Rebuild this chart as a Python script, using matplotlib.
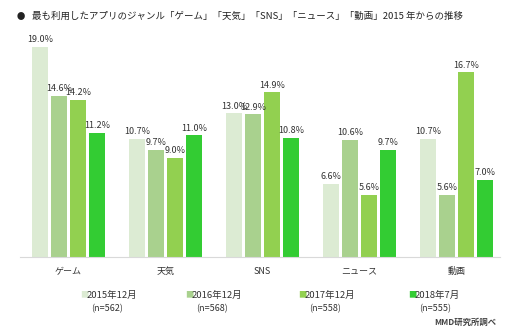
import matplotlib.pyplot as plt
import numpy as np

plt.rcParams['font.family'] = ['Noto Sans CJK JP', 'DejaVu Sans']

# data
categories = ['ゲーム', '天気', 'SNS', 'ニュース', '動画']
series = ['2015年12月', '2016年12月', '2017年12月', '2018年7月']
sample_sizes = ['(n=562)', '(n=568)', '(n=558)', '(n=555)']
v2015 = [19.0, 10.7, 13.0, 6.6, 10.7]
v2016 = [14.6, 9.7, 12.9, 10.6, 5.6]
v2017 = [14.2, 9.0, 14.9, 5.6, 16.7]
v2018 = [11.2, 11.0, 10.8, 9.7, 7.0]
values = [v2015, v2016, v2017, v2018]
colors = ['#dcebd3', '#a9d18e', '#92d050', '#33cc33']

fig = plt.figure(figsize=(5.12, 3.29), dpi=100)
ax = fig.add_axes([20 / 512, (329 - 257) / 329, 480 / 512, 221 / 329])

x = np.arange(len(categories))
step = 0.195
width = 0.165
for i, (vals, c) in enumerate(zip(values, colors)):
    pos = x + (i - 1.5) * step
    ax.bar(pos, vals, width, color=c)
    for p, v in zip(pos, vals):
        ax.text(p, v + 0.25, f'{v:.1f}%', ha='center', va='bottom',
                fontsize=6.5, color='#333333')

ax.set_xlim(-0.5, 4.45)
ax.set_ylim(0, 20)
for s in ['top', 'right', 'left']:
    ax.spines[s].set_visible(False)
ax.spines['bottom'].set_color('#d9d9d9')
ax.set_yticks([])
ax.set_xticks(x)
ax.set_xticklabels(categories, fontsize=6.5, color='#333333')
ax.tick_params(axis='x', length=0, pad=7)

# title
fig.text(17 / 512, 1 - 16 / 329, '●', fontsize=6, color='#222222', va='center')
fig.text(32 / 512, 1 - 16 / 329,
         '最も利用したアプリのジャンル「ゲーム」「天気」「SNS」「ニュース」「動画」2015 年からの推移',
         fontsize=6.8, color='#222222', va='center')

# legend
leg_x = [80, 185, 298, 408]
for lx, name, n, c in zip(leg_x, series, sample_sizes, colors):
    fig.text(lx / 512, 1 - 295 / 329, '■', fontsize=6, color=c, va='center')
    fig.text((lx + 7) / 512, 1 - 295 / 329, name, fontsize=6.8,
             color='#333333', va='center')
    fig.text((lx + 27) / 512, 1 - 309 / 329, n, fontsize=6.5,
             color='#333333', va='center', ha='center')

fig.text(496 / 512, 1 - 322 / 329, 'MMD研究所調べ', fontsize=6,
         fontweight='bold', color='#444444', va='center', ha='right')

fig.savefig('out.png', dpi=100)
